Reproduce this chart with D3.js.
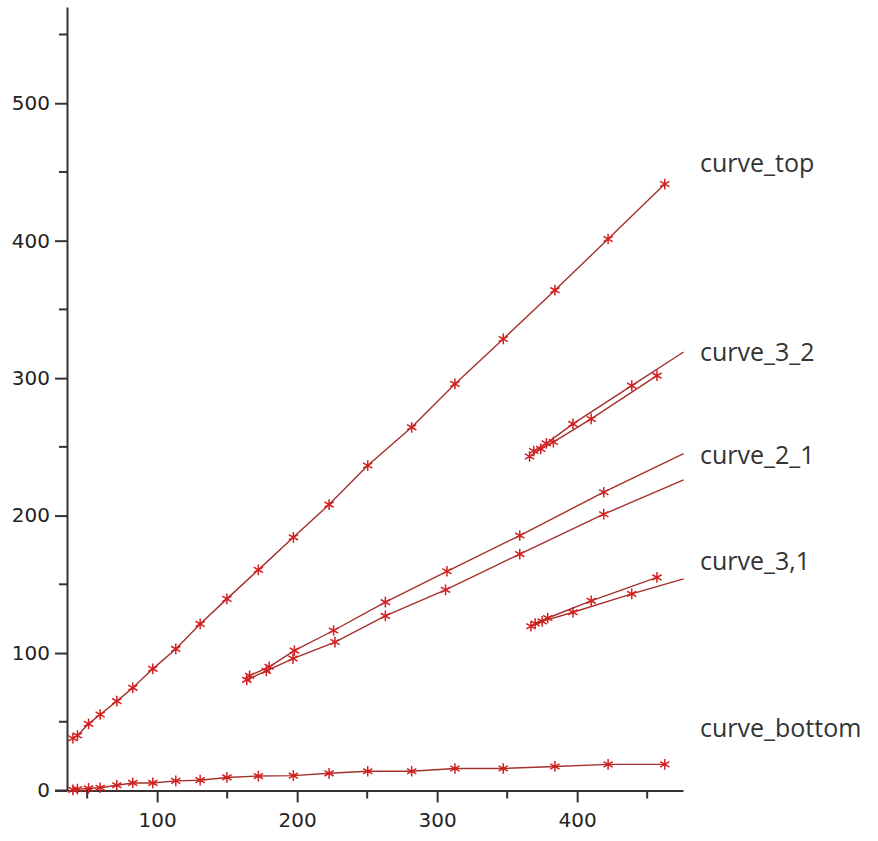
<!DOCTYPE html>
<html>
<head>
<meta charset="utf-8">
<script src="https://cdn.jsdelivr.net/npm/d3@7"></script>
<style>
  body { margin: 0; background: #fff; }
  svg { display: block; }
  .tick text { font-family: "DejaVu Sans", sans-serif; }
</style>
</head>
<body>
<svg id="chart" width="878" height="841"></svg>
<script>
// top and bottom curves share their x values
var topX = [39.8, 43.1, 51, 59.3, 71.2, 82.6, 96.9, 113.3, 130.7, 149.8, 172.3, 197.3, 222.8, 250.4, 281.8, 312.7, 347.2, 384.1, 422.1, 462.6];
var topY = [38, 40, 48.5, 55.3, 65, 74.7, 88.5, 103, 121.2, 139.4, 160.5, 184.2, 208, 236.4, 264.2, 295.8, 328.5, 364, 401.2, 441.2];
var bottomY = [0.5, 1, 1.5, 2, 3.8, 5.5, 5.5, 7, 7.5, 9.5, 10.5, 10.8, 12.5, 14, 14, 16, 16, 17.5, 19, 19];

var c32aX = [369, 378, 397, 439];
var c32aY = [247, 252.5, 266.7, 294.5];
var c32aTail = [476, 319];
var c32bX = [366, 374, 383, 410, 457];
var c32bY = [243, 248.5, 253.5, 270.3, 301.8];

var c21aX = [166, 180, 198, 226, 263, 307, 359, 419];
var c21aY = [83.5, 90, 101.8, 116.4, 137, 159.5, 185.5, 217];
var c21aTail = [476, 245];
var c21bX = [164, 178, 197, 227, 263, 306, 359, 419];
var c21bY = [80.5, 87, 96, 108, 127, 146, 172, 201];
var c21bTail = [476, 226];

var c31aX = [367, 375, 397, 439];
var c31aY = [119.5, 123, 129.7, 143];
var c31aTail = [476, 154];
var c31bX = [370, 379, 410, 457];
var c31bY = [121.5, 125.5, 138, 155];

var labels = ["curve_top", "curve_3_2", "curve_2_1", "curve_3,1", "curve_bottom"];
var labelY = [456, 319, 244, 167, 45];   // in data units, where each name sits

var xMajor = [100, 200, 300, 400];
var xMinor = [50, 150, 250, 350, 450];
var yMajor = [0, 100, 200, 300, 400, 500];
var yMinor = [50, 150, 250, 350, 450, 550];

var svg = d3.select("#chart");
var x = d3.scaleLinear().domain([35.6, 475.6]).range([67, 683]);
var y = d3.scaleLinear().domain([0, 570]).range([790.5, 7]);

function pts(xs, ys, tail) {
    var p = xs.map(function(d, i){ return [d, ys[i]]; });
    return {marks: p.slice(), path: tail ? p.concat([tail]) : p};
}

var series = [
    pts(topX, topY),
    pts(topX, bottomY),
    pts(c32aX, c32aY, c32aTail),
    pts(c32bX, c32bY),
    pts(c21aX, c21aY, c21aTail),
    pts(c21bX, c21bY, c21bTail),
    pts(c31aX, c31aY, c31aTail),
    pts(c31bX, c31bY)
];

var line = d3.line().x(function(d){ return x(d[0]); }).y(function(d){ return y(d[1]); });
var star = d3.symbol().type(d3.symbolAsterisk).size(80);

// axes
var axisColor = "#333";
var gx = svg.append("g").attr("transform", "translate(0," + y(0) + ")");
gx.call(d3.axisBottom(x).tickValues(xMajor).tickSize(12).tickSizeOuter(0).tickPadding(10)
    .tickFormat(d3.format("d")));
gx.append("g").selectAll("line").data(xMinor).enter().append("line")
    .attr("x1", function(d){ return x(d); }).attr("x2", function(d){ return x(d); })
    .attr("y1", 0).attr("y2", 8);
gx.append("line").attr("x1", 55).attr("x2", 67).attr("y1", 0).attr("y2", 0);

var gy = svg.append("g").attr("transform", "translate(" + x(35.6) + ",0)");
gy.call(d3.axisLeft(y).tickValues(yMajor).tickSize(12).tickSizeOuter(0).tickPadding(5)
    .tickFormat(d3.format("d")));
gy.append("g").selectAll("line").data(yMinor).enter().append("line")
    .attr("y1", function(d){ return y(d); }).attr("y2", function(d){ return y(d); })
    .attr("x1", 0).attr("x2", -8);

svg.selectAll(".domain").attr("stroke", axisColor).attr("stroke-width", 2);
svg.selectAll("g line").attr("stroke", axisColor).attr("stroke-width", 2);
svg.selectAll(".tick text").attr("fill", "#222").style("font-size", "20px");

// curves
var plot = svg.append("g");
series.forEach(function(s){
    plot.append("path").attr("d", line(s.path))
        .attr("fill", "none").attr("stroke", "#a3302c").attr("stroke-width", 1.4);
    plot.selectAll(null).data(s.marks).enter().append("path")
        .attr("d", star)
        .attr("transform", function(d){ return "translate(" + x(d[0]) + "," + y(d[1]) + ")"; })
        .attr("fill", "none").attr("stroke", "#d41f1f").attr("stroke-width", 1.5);
});

svg.selectAll(".label").data(labels).enter().append("text")
    .attr("class", "label")
    .attr("x", 700)
    .attr("y", function(d, i){ return y(labelY[i]); })
    .attr("dy", "0.35em")
    .attr("fill", "#333")
    .style("font-family", "'Open Sans', sans-serif")
    .style("font-size", "25px")
    .text(function(d){ return d; });
</script>
</body>
</html>
